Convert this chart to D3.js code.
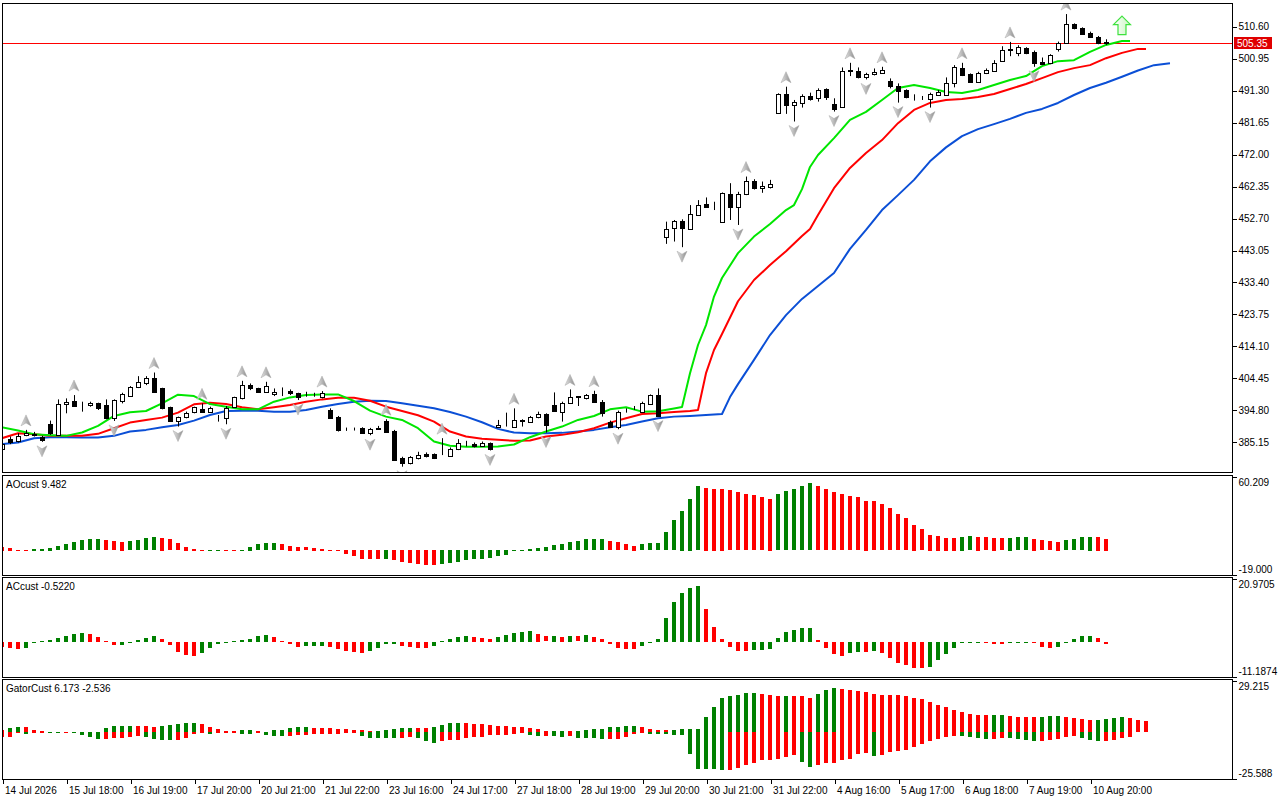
<!doctype html>
<html>

<head>
  <meta charset="utf-8">
  <title>Alligator, AO, AC, Gator</title>
  <style>
    html, body { margin: 0; padding: 0; background: #fff; }
    svg { display: block; font-family: "Liberation Sans", Arial, sans-serif; }
    .axis text { font-size: 10px; fill: #000; }
    .axis line { stroke: #000; shape-rendering: crispEdges; }
    .axis path { display: none; }
    .frame { fill: none; stroke: #000; shape-rendering: crispEdges; }
    .bar { shape-rendering: crispEdges; }
  </style>
</head>

<body>
  <svg id="chart" width="1280" height="800"></svg>

  <script src="https://cdn.jsdelivr.net/npm/d3@7"></script>

  <script>
    // ---------- data ----------
    var opens = [382.9,386.0,385.3,387.4,387.6,386.6,390.6,387.3,396.5,397.5,
      396.8,396.3,396.8,396.3,392.3,397.6,399.1,401.6,403.0,404.3,
      401.3,395.6,391.6,392.6,394.1,395.1,394.3,392.3,392.3,395.8,
      398.3,402.3,401.3,400.3,399.5,400.3,400.6,399.8,399.3,399.5,
      398.8,394.8,392.8,389.0,389.0,389.3,388.0,389.2,391.5,388.5,
      380.2,378.7,380.2,381.5,381.5,381.8,381.0,382.9,384.5,384.6,
      384.0,384.7,389.6,390.0,389.8,391.6,391.3,392.6,393.6,396.3,
      394.3,396.8,398.8,398.3,399.6,397.3,391.3,389.8,394.5,395.3,
      394.3,396.6,399.3,446.9,449.6,451.8,449.4,453.6,456.9,456.3,
      451.4,459.9,455.9,459.9,463.9,461.6,462.1,484.5,490.1,486.8,
      487.5,489.5,488.8,491.5,487.1,486.1,497.1,497.0,495.3,496.0,
      496.5,494.0,492.5,491.3,489.3,489.0,488.6,489.8,489.8,493.3,
      497.8,496.1,493.8,496.3,497.0,500.1,503.6,502.4,503.9,502.9,
      499.8,499.3,503.6,505.4,511.2,509.9,508.6,507.4,505.9];
    var highs = [385.0,386.8,387.8,388.8,388.2,387.0,391.6,398.0,398.3,399.3,
      397.3,397.3,397.0,398.0,398.0,400.0,402.0,405.0,405.0,406.1,
      401.5,395.8,392.8,394.3,395.8,396.8,395.8,393.3,396.0,398.8,
      403.6,402.8,401.5,403.3,401.3,401.6,401.0,400.0,400.3,400.0,
      400.5,395.3,393.0,389.5,389.5,389.6,389.4,390.0,392.0,388.8,
      380.7,380.9,382.2,382.0,381.7,386.3,383.5,386.0,385.5,385.0,
      385.3,385.0,391.8,394.0,395.3,392.0,393.0,394.3,393.8,400.1,
      397.3,401.0,399.0,399.6,400.6,397.8,391.6,394.6,395.3,396.0,
      397.3,399.5,401.3,451.6,452.1,452.3,456.6,458.1,458.9,457.6,
      460.4,463.2,460.6,465.2,464.4,463.7,464.2,490.3,492.3,488.3,
      490.0,490.5,491.8,491.8,488.8,498.1,499.5,498.1,496.5,497.8,
      498.3,494.8,493.3,491.5,490.0,489.5,490.5,491.3,495.1,498.8,
      499.5,496.3,496.8,497.8,500.3,504.5,505.8,504.8,504.2,503.2,
      501.1,502.1,505.9,514.2,511.4,510.2,508.9,507.6,506.6];
    var lows = [382.5,384.5,385.0,386.9,386.8,385.2,387.3,387.2,393.8,395.8,
      394.3,395.8,394.8,392.0,391.5,396.8,398.8,401.4,402.3,400.1,
      395.0,391.3,389.8,392.3,393.8,394.1,394.1,391.3,390.5,395.6,
      398.0,400.8,400.0,400.0,399.0,399.0,399.3,397.8,398.8,398.8,
      398.3,392.1,388.3,388.5,388.6,387.6,387.2,388.8,388.0,379.5,
      377.7,378.4,379.9,380.5,380.0,381.2,380.7,382.7,383.8,383.5,
      383.7,382.6,389.6,389.8,389.6,389.8,391.0,392.3,388.0,394.3,
      391.3,396.6,396.0,398.0,397.0,392.8,389.6,389.0,394.0,394.8,
      394.0,396.3,392.8,444.9,445.6,443.9,449.1,453.3,455.8,455.1,
      451.3,452.1,450.6,459.6,461.3,460.3,461.6,484.3,484.1,481.8,
      486.0,488.1,487.8,488.3,484.8,486.0,495.5,494.8,494.5,495.7,
      496.3,491.8,487.5,488.8,488.1,488.3,486.0,489.5,489.6,492.1,
      495.5,493.6,493.6,496.1,496.8,500.1,501.5,501.5,502.1,498.3,
      498.8,499.1,502.9,505.2,509.6,507.9,507.1,505.1,504.9];
    var closes = [384.4,385.0,387.0,387.8,387.3,385.8,387.8,396.5,397.3,396.0,
      396.9,397.0,395.3,392.3,397.8,399.5,401.8,403.1,404.3,400.3,
      395.3,391.6,392.6,394.0,395.6,394.3,395.3,392.5,395.3,398.6,
      402.3,401.3,400.3,402.0,400.3,400.2,399.8,398.8,399.4,399.6,
      399.8,392.3,388.8,389.0,389.1,388.0,389.1,389.3,388.3,379.7,
      378.7,380.7,381.2,380.9,380.2,381.9,383.0,384.7,384.6,383.8,
      384.7,382.9,390.3,390.1,391.8,391.7,392.6,393.6,390.3,394.5,
      396.8,398.8,398.9,399.3,397.3,393.8,389.8,394.3,394.6,395.4,
      396.8,399.3,393.0,449.3,451.8,449.6,453.9,456.6,456.1,456.4,
      460.1,455.9,459.9,463.9,461.6,462.3,462.9,490.1,486.8,487.8,
      489.5,488.5,491.3,489.1,485.6,497.1,497.2,495.3,496.1,496.8,
      497.3,492.5,491.1,489.3,489.2,488.9,490.0,490.8,493.5,498.1,
      495.8,493.8,496.3,497.3,499.5,503.5,503.5,504.2,502.6,499.5,
      499.1,501.8,505.4,511.2,509.9,508.1,507.4,505.4,505.35];

    // alligator lines, [bar, price]
    var jaw = [[0,384.5],[2,385.0],[4,386.3],[6,386.6],[8,386.6],[10,386.5],[12,386.5],[14,387.0],[16,388.3],[18,388.8],
      [20,389.6],[22,390.3],[24,391.6],[26,393.3],[28,394.5],[30,394.6],[32,394.6],[34,394.3],[36,394.3],[38,394.8],
      [40,395.8],[42,396.6],[44,397.3],[46,397.6],[48,397.5],[50,396.8],[52,396.1],[54,395.3],[56,394.2],[58,392.8],
      [60,391.1],[62,389.1],[64,388.0],[66,387.8],[68,387.8],[70,387.9],[72,388.3],[74,388.8],[76,389.6],[78,390.3],
      [80,391.3],[82,392.3],[84,392.8],[86,393.0],[88,393.3],[90,393.6],[91,398.7],[92,402.6],[94,409.9],[96,417.4],
      [98,423.4],[100,428.3],[102,432.2],[104,436.1],[106,443.4],[108,449.1],[110,455.1],[112,459.6],[114,464.2],[116,469.8],
      [118,474.0],[120,477.4],[122,479.5],[124,481.0],[126,482.6],[128,484.4],[130,485.6],[132,487.4],[134,489.8],[136,491.9],
      [138,493.5],[140,495.3],[142,497.2],[144,498.8],[146,499.4]];
    var teeth = [[0,386.3],[2,387.8],[4,387.5],[6,387.0],[8,387.0],[10,387.0],[12,387.6],[14,389.3],[16,391.0],[18,391.8],
      [20,392.5],[22,394.0],[24,396.5],[26,397.0],[28,396.6],[30,395.6],[32,395.0],[34,395.6],[36,396.3],[38,397.3],
      [40,398.0],[42,398.5],[44,398.5],[46,397.6],[48,395.8],[50,394.5],[52,393.2],[54,391.3],[56,388.3],[58,386.8],
      [60,386.1],[62,385.8],[64,385.5],[66,385.6],[68,386.8],[70,387.3],[72,388.1],[74,389.3],[76,391.0],[78,392.3],
      [80,393.6],[82,393.8],[84,394.2],[86,394.5],[87,394.8],[88,405.9],[89,412.9],[90,417.7],[92,427.6],[94,434.0],
      [96,438.5],[98,442.7],[100,447.3],[101,449.4],[102,453.6],[104,461.7],[106,467.8],[108,472.3],[110,476.2],[112,481.3],
      [114,485.3],[116,487.4],[118,488.3],[120,488.6],[122,489.2],[124,490.1],[126,491.6],[128,493.1],[130,494.9],[132,496.7],
      [134,497.9],[136,498.8],[138,500.9],[140,502.5],[142,503.7],[143,503.7]];
    var lips = [[0,389.6],[2,388.6],[4,387.5],[6,387.2],[8,387.0],[10,388.0],[12,390.0],[14,393.0],[16,394.1],[18,394.5],
      [20,396.8],[22,399.4],[24,399.0],[26,396.6],[28,395.8],[30,395.0],[32,395.0],[34,397.3],[36,398.6],[38,399.3],
      [40,399.5],[42,399.5],[44,397.5],[46,394.6],[48,392.8],[50,391.8],[52,389.3],[54,385.3],[56,384.0],[58,383.7],
      [60,383.7],[62,383.8],[64,384.4],[66,386.6],[68,388.3],[70,389.8],[72,391.8],[74,393.0],[76,395.0],[78,395.6],
      [80,394.3],[82,394.4],[84,395.25],[85,395.7],[86,405.9],[87,414.4],[88,420.4],[89,429.0],[90,434.6],[92,442.1],
      [94,447.1],[96,450.9],[98,455.1],[99,456.6],[100,461.4],[101,468.1],[102,471.7],[104,476.8],[106,482.3],[108,484.7],
      [110,488.3],[112,491.9],[114,492.8],[116,491.9],[118,490.7],[120,490.4],[122,491.3],[124,492.8],[126,494.3],[128,495.5],
      [130,498.5],[132,500.0],[134,500.3],[136,502.8],[138,504.9],[140,506.1],[141,506.1]];

    var fractalUp = [3,9,19,25,30,33,40,48,55,64,71,74,93,98,106,110,120,126,133];
    var fractalDown = [5,14,22,28,37,46,50,61,68,77,82,85,92,99,104,108,112,116,129];
    var signalBar = 140, signalPrice = 513.6;

    var ao = [3.0,2.4,0.5,-0.1,1.3,1.6,2.4,3.5,5.1,6.7,
      8.4,8.9,9.0,8.1,7.3,7.0,7.5,8.4,10.0,10.8,
      10.5,8.9,5.7,3.2,1.5,0.6,0.7,0.8,0.6,0.5,
      0.7,3.0,5.1,5.7,5.8,4.9,4.0,3.2,2.7,2.4,
      1.6,-0.4,-0.6,-3.2,-5.1,-7.0,-7.3,-7.4,-7.0,-8.4,
      -9.4,-10.8,-11.3,-11.9,-12.0,-11.1,-10.2,-9.4,-8.1,-7.3,
      -7.0,-6.2,-4.6,-3.8,-1.2,-0.3,1.3,2.4,3.2,4.3,
      5.1,6.5,7.3,8.9,9.0,9.1,7.3,6.5,4.9,4.0,
      5.1,5.7,5.8,14.6,24.3,32.3,42.0,51.8,50.9,50.1,
      50.0,48.5,46.9,45.3,44.5,42.9,42.0,45.3,47.7,49.3,
      51.8,54.2,51.8,49.3,46.9,45.3,43.7,42.9,40.4,39.6,
      37.2,34.0,29.1,25.9,21.0,17.0,12.9,12.1,10.5,10.4,
      11.3,11.4,11.0,10.8,10.5,9.7,10.5,10.6,10.7,9.4,
      8.1,7.3,7.2,8.1,8.9,10.8,11.3,11.2,9.482];
    var ac = [-1.7,-2.1,-2.3,-2.0,-0.2,0.3,0.7,1.2,1.9,2.6,
      2.8,2.5,1.5,0.2,-1.0,-0.9,-0.3,0.6,1.2,1.9,
      0.9,-0.9,-3.2,-4.3,-4.6,-3.7,-1.9,-0.8,-0.3,0.2,
      0.6,1.1,2.1,2.2,1.5,0.2,-0.8,-1.5,-1.4,-1.3,
      -1.2,-1.6,-2.2,-2.9,-3.3,-3.6,-3.0,-2.0,-0.6,-0.5,
      -1.4,-1.5,-1.9,-2.0,-1.3,0.3,0.9,1.5,1.9,1.5,
      1.2,1.1,1.5,2.2,2.8,3.2,3.5,2.5,1.8,1.9,
      1.5,1.9,1.8,2.2,1.5,0.9,-0.6,-2.0,-2.3,-2.4,
      -1.3,-0.3,0.9,7.8,13.0,16.0,17.6,18.3,10.7,4.8,
      0.9,-1.6,-3.0,-3.1,-2.6,-2.55,-2.3,1.2,3.2,3.8,
      4.5,4.55,0.5,-2.0,-4.1,-4.6,-3.6,-3.3,-3.35,-3.0,
      -3.6,-5.3,-6.9,-7.5,-8.5,-8.6,-8.2,-5.9,-3.9,-2.0,
      -0.2,-0.15,-0.1,-0.3,-0.6,-0.65,-0.3,-0.2,0.1,-0.3,
      -1.7,-2.0,-1.6,-0.2,0.9,1.9,1.95,1.2,-0.522];
    var gatorUp = [1.5,2.2,2.8,2.7,1.1,0.5,0.3,0.4,0.3,0.4,
      0.2,0.1,0.2,2.2,3.4,3.45,3.5,3.4,3.35,2.8,
      3.4,3.9,4.5,5.0,5.05,4.5,2.8,1.7,0.55,0.5,
      1.1,1.15,0.55,0.4,1.1,1.15,2.2,2.8,2.85,2.2,
      2.15,2.1,1.7,1.65,1.1,1.05,0.5,0.6,1.1,1.7,
      2.2,2.25,2.2,2.15,2.8,3.9,5.0,5.05,5.0,4.5,
      4.45,3.9,3.4,3.35,2.8,2.75,2.2,1.7,0.55,0.6,
      0.7,0.5,0.55,1.1,1.7,1.75,2.8,2.85,3.4,3.45,
      2.8,1.7,1.1,1.05,1.1,1.7,1.75,1.8,8.4,14.0,
      19.0,20.1,20.7,21.8,21.85,21.2,20.7,20.1,20.15,20.1,
      20.05,19.0,21.2,23.5,24.6,24.0,23.5,22.9,22.4,21.2,
      20.7,20.65,20.6,20.1,19.0,18.5,16.8,15.1,14.0,12.3,
      11.2,10.1,9.5,9.45,9.5,9.55,8.9,8.4,8.35,8.3,
      8.4,8.9,8.95,8.4,7.8,7.3,6.7,6.75,7.3,7.8,
      8.4,7.8,6.7,6.173];
    var gatorDown = [-3.0,-2.8,-0.6,-1.1,-0.5,-0.4,-0.45,-0.5,-0.3,-0.4,
      -1.7,-2.8,-3.9,-3.85,-3.4,-3.3,-2.8,-2.2,-2.8,-3.9,
      -4.5,-4.55,-4.4,-3.4,-1.1,-0.5,-1.1,-0.5,-0.45,-0.4,
      -1.1,-1.15,-0.5,-1.7,-2.2,-2.25,-2.2,-1.7,-1.6,-1.1,
      -1.05,-1.0,-0.95,-0.5,-0.45,-2.2,-3.4,-3.45,-3.5,-3.55,
      -3.4,-2.8,-3.4,-5.0,-6.2,-5.0,-4.5,-4.45,-3.4,-2.8,
      -2.75,-1.7,-1.65,-1.6,-1.1,-0.55,-1.7,-2.2,-2.1,-2.2,
      -2.8,-2.2,-3.4,-3.45,-3.5,-3.9,-3.85,-3.8,-2.8,-1.1,
      -0.55,-1.1,-1.15,-1.2,-1.7,-1.75,-12.3,-20.7,-20.75,-20.8,
      -21.2,-21.1,-20.1,-18.5,-17.3,-15.7,-15.65,-15.1,-14.0,-12.9,
      -16.8,-19.6,-18.5,-17.3,-17.25,-15.65,-15.1,-12.3,-11.7,-13.4,
      -12.9,-11.2,-10.6,-10.1,-8.4,-6.7,-5.0,-3.9,-2.8,-2.2,
      -2.25,-2.8,-3.4,-3.9,-3.85,-3.4,-3.45,-3.9,-4.5,-5.0,
      -4.95,-4.5,-3.9,-2.8,-2.2,-3.4,-4.5,-5.0,-4.95,-4.45,
      -3.2,-2.536];

    var priceTicks = [510.60,500.95,491.30,481.65,472.00,462.35,452.70,443.05,433.40,423.75,414.10,404.45,394.80,385.15];
    var priceRange = [376.10, 517.54];
    var lastPrice = 505.35;
    var aoRange = [-19.000, 60.209];
    var acRange = [-11.1874, 20.9705];
    var gatorRange = [-25.588, 29.215];

    var timeBars = [0,8,16,24,32,40,48,56,64,72,80,88,96,104,112,120,128,136];
    var timeLabels = ['14 Jul 2026','15 Jul 18:00','16 Jul 19:00','17 Jul 20:00','20 Jul 21:00','21 Jul 22:00',
      '23 Jul 16:00','24 Jul 17:00','27 Jul 18:00','28 Jul 19:00','29 Jul 20:00','30 Jul 21:00',
      '31 Jul 22:00','4 Aug 16:00','5 Aug 17:00','6 Aug 18:00','7 Aug 19:00','10 Aug 20:00'];

    // ---------- layout ----------
    var GREEN = '#008000', RED = '#ff0000';
    var left = 2, right = 1232, barPx = 8;
    var panels = {
      main: { top: 3, bottom: 472 },
      ao: { top: 475, bottom: 575 },
      ac: { top: 577, bottom: 677 },
      gator: { top: 679, bottom: 779 }
    };

    // plain hyphen for negatives, like the terminal prints them
    var locale = d3.formatLocale({ decimal: '.', thousands: '', grouping: [3], currency: ['', ''], minus: '-' });
    function fmt(spec) { return locale.format(spec); }

    var svg = d3.select('#chart');
    var defs = svg.append('defs');

    var x = d3.scaleLinear().domain([0, (right - left) / barPx]).range([left, right]);

    function addClip(id, p) {
      defs.append('clipPath').attr('id', id)
        .append('rect').attr('x', left + 1).attr('y', p.top + 1)
        .attr('width', right - left - 1).attr('height', p.bottom - p.top - 1);
    }
    addClip('clip-main', panels.main);
    addClip('clip-ao', panels.ao);
    addClip('clip-ac', panels.ac);
    addClip('clip-gator', panels.gator);

    var yMain = d3.scaleLinear().domain(priceRange).range([panels.main.bottom, panels.main.top]);
    var yAO = d3.scaleLinear().domain(aoRange).range([panels.ao.bottom - 1, panels.ao.top + 1]);
    var yAC = d3.scaleLinear().domain(acRange).range([panels.ac.bottom - 1, panels.ac.top + 1]);
    var yGator = d3.scaleLinear().domain(gatorRange).range([panels.gator.bottom - 1, panels.gator.top + 1]);

    // ---------- main chart ----------
    var main = svg.append('g').attr('clip-path', 'url(#clip-main)');

    var py = Math.round(yMain(lastPrice));
    main.append('rect')
      .attr('x', left).attr('y', py).attr('width', right - left).attr('height', 1)
      .attr('fill', '#ff0000').attr('shape-rendering', 'crispEdges');

    var lineGen = d3.line()
      .x(function(d) { return x(d[0]); })
      .y(function(d) { return yMain(d[1]); });

    [[jaw, '#0b4fd6'], [teeth, '#ff0000'], [lips, '#00e600']].forEach(function(s) {
      main.append('path').datum(s[0])
        .attr('d', lineGen)
        .attr('fill', 'none')
        .attr('stroke', s[1])
        .attr('stroke-width', 2)
        .attr('stroke-linejoin', 'round');
    });

    var bars = d3.range(closes.length);
    var candle = main.append('g').selectAll('g').data(bars).enter().append('g');
    candle.append('line')
      .attr('x1', function(i) { return Math.round(x(i)) + 0.5; })
      .attr('x2', function(i) { return Math.round(x(i)) + 0.5; })
      .attr('y1', function(i) { return yMain(highs[i]); })
      .attr('y2', function(i) { return yMain(lows[i]); })
      .attr('stroke', '#000').attr('stroke-width', 1);
    candle.append('rect')
      .attr('class', 'bar')
      .attr('x', function(i) { return Math.round(x(i)) - 1.5; })
      .attr('width', 4)
      .attr('y', function(i) { return Math.round(yMain(Math.max(opens[i], closes[i]))) + 0.5; })
      .attr('height', function(i) {
        return Math.max(0, Math.round(yMain(Math.min(opens[i], closes[i]))) - Math.round(yMain(Math.max(opens[i], closes[i]))));
      })
      .attr('fill', function(i) { return closes[i] >= opens[i] ? '#fff' : '#000'; })
      .attr('stroke', '#000').attr('stroke-width', 1);

    // fractal arrows
    var fg = defs.append('linearGradient').attr('id', 'fractal-fill').attr('x1', 0).attr('x2', 1);
    fg.append('stop').attr('offset', '0%').attr('stop-color', '#e4e4e4');
    fg.append('stop').attr('offset', '100%').attr('stop-color', '#8c8c8c');

    main.append('g').selectAll('path').data(fractalUp).enter().append('path')
      .attr('transform', function(i) { return 'translate(' + x(i) + ',' + (yMain(highs[i]) - 9) + ')'; })
      .attr('d', 'M0,-6L5,5L0,2L-5,5Z')
      .attr('fill', 'url(#fractal-fill)').attr('stroke', '#a8a8a8').attr('stroke-width', 0.5);
    main.append('g').selectAll('path').data(fractalDown).enter().append('path')
      .attr('transform', function(i) { return 'translate(' + x(i) + ',' + (yMain(lows[i]) + 9) + ')'; })
      .attr('d', 'M0,6L5,-5L0,-2L-5,-5Z')
      .attr('fill', 'url(#fractal-fill)').attr('stroke', '#a8a8a8').attr('stroke-width', 0.5);

    // signal arrow
    var sg = defs.append('linearGradient').attr('id', 'signal-fill').attr('x1', 0).attr('x2', 1);
    sg.append('stop').attr('offset', '0%').attr('stop-color', '#ffffff');
    sg.append('stop').attr('offset', '100%').attr('stop-color', '#c8f5c0');
    main.append('path')
      .attr('transform', 'translate(' + x(signalBar) + ',' + yMain(signalPrice) + ')')
      .attr('d', 'M0,0L8.5,8.5L4,8.5L4,18.5L-4,18.5L-4,8.5L-8.5,8.5Z')
      .attr('fill', 'url(#signal-fill)').attr('stroke', '#3ee23e').attr('stroke-width', 1.2)
      .attr('stroke-linejoin', 'miter');

    // ---------- oscillator panels ----------
    function histogram(clip, values, y, colorOf) {
      var g = svg.append('g').attr('clip-path', 'url(#' + clip + ')');
      g.selectAll('rect').data(values).enter().append('rect')
        .attr('class', 'bar')
        .attr('x', function(d, i) { return Math.round(x(i)) - 2; })
        .attr('width', 4)
        .attr('y', function(d) { return Math.round(Math.min(y(d), y(0))); })
        .attr('height', function(d) { return Math.max(1, Math.round(Math.abs(y(d) - y(0)))); })
        .attr('fill', colorOf);
    }

    function rising(values) {
      return function(d, i) { return i > 0 && d > values[i - 1] ? GREEN : RED; };
    }
    function widening(values) {
      return function(d, i) { return i > 0 && Math.abs(d) > Math.abs(values[i - 1]) ? GREEN : RED; };
    }

    histogram('clip-ao', ao, yAO, rising(ao));
    histogram('clip-ac', ac, yAC, rising(ac));
    histogram('clip-gator', gatorUp, yGator, widening(gatorUp));
    histogram('clip-gator', gatorDown, yGator, widening(gatorDown));

    // ---------- frames ----------
    Object.keys(panels).forEach(function(k) {
      var p = panels[k];
      svg.append('rect').attr('class', 'frame')
        .attr('x', left + 0.5).attr('y', p.top + 0.5)
        .attr('width', right - left).attr('height', p.bottom - p.top);
    });

    // ---------- axes ----------
    var priceAxis = d3.axisRight(yMain).tickValues(priceTicks).tickSize(4).tickPadding(2)
      .tickFormat(fmt('.2f'));
    svg.append('g').attr('class', 'axis').attr('transform', 'translate(' + (right + 0.5) + ',0.5)').call(priceAxis);

    function sideAxis(y, range, spec) {
      var ax = d3.axisRight(y).tickValues([range[1], range[0]]).tickSize(4).tickPadding(2).tickFormat(fmt(spec));
      var g = svg.append('g').attr('class', 'axis').attr('transform', 'translate(' + (right + 0.5) + ',0.5)').call(ax);
      g.selectAll('text').attr('dy', function(d) { return d === range[1] ? '0.9em' : '-0.25em'; });
    }
    sideAxis(yAO, aoRange, '.3f');
    sideAxis(yAC, acRange, '.4f');
    sideAxis(yGator, gatorRange, '.3f');

    // current price marker
    svg.append('rect').attr('x', right + 2).attr('y', py - 6).attr('width', 38).attr('height', 12).attr('fill', '#e00000');
    svg.append('text').attr('x', right + 5).attr('y', py + 4)
      .attr('font-size', 10).attr('fill', '#fff').text(fmt('.2f')(lastPrice));

    var timeAxis = d3.axisBottom(x).tickValues(timeBars).tickSize(4).tickPadding(3)
      .tickFormat(function(d, i) { return timeLabels[i]; });
    var tg = svg.append('g').attr('class', 'axis')
      .attr('transform', 'translate(0.5,' + (panels.gator.bottom + 0.5) + ')').call(timeAxis);
    tg.selectAll('text').attr('text-anchor', 'start').attr('x', 2);

    // panel captions
    var captions = [
      ['AOcust ' + fmt('.3f')(ao[ao.length - 1]), panels.ao.top + 13],
      ['ACcust ' + fmt('.4f')(ac[ac.length - 1]), panels.ac.top + 13],
      ['GatorCust ' + fmt('.3f')(gatorUp[gatorUp.length - 1]) + ' ' + fmt('.3f')(gatorDown[gatorDown.length - 1]), panels.gator.top + 13]
    ];
    captions.forEach(function(c) {
      svg.append('text').attr('x', 6).attr('y', c[1]).attr('font-size', 10).attr('fill', '#000').text(c[0]);
    });
  </script>

</body>

</html>
